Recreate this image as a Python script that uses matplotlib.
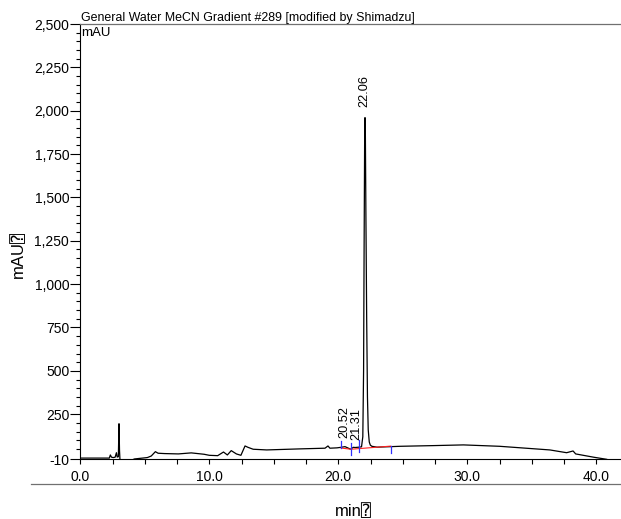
import matplotlib
matplotlib.use("Agg")
import matplotlib.pyplot as plt
from matplotlib.lines import Line2D
from matplotlib.ticker import FixedLocator, MultipleLocator, FuncFormatter

# ---- data ----
time_min = [0.0, 1.0, 2.0, 2.25, 2.33, 2.42, 2.55, 2.70, 2.80, 2.86, 2.95, 3.00, 3.04, 3.08,
            3.4, 3.8, 4.2, 4.7, 5.2, 5.5, 5.82, 6.03, 6.54, 7.6, 8.6, 9.6, 10.0, 10.65,
            11.1, 11.4, 11.7, 12.1, 12.45, 12.77, 13.0, 13.4, 14.45, 17.0, 18.97, 19.2,
            19.35, 19.9, 20.2, 20.52, 20.96, 21.16, 21.31, 21.6, 21.80, 21.90, 21.96,
            22.00, 22.04, 22.07, 22.10, 22.14, 22.20, 22.26, 22.32, 22.40, 22.48, 22.6,
            23.0, 24.8, 27.4, 29.7, 32.5, 33.8, 36.4, 37.7, 38.2, 38.4, 39.8, 40.8]
signal_mau = [-3, -3, -3, -3, 15, 2, 0, 2, 28, 3, 5, 195, 40, -20,
              -25, -20, -8, -4, 0, 9, 34, 25, 23, 21, 27, 19, 13, 11,
              32, 15, 40, 21, 13, 67, 59, 48, 44, 50, 54, 67,
              54, 56, 59, 63, 48, 59, 58, 60, 62, 120, 500,
              1200, 1800, 1960, 1850, 1400, 800, 350, 160, 90, 72, 65,
              60, 65, 69, 73, 65, 58, 44, 28, 38, 21, 2, -10]

peak_labels = ["20.52", "21.31", "22.06"]
peak_label_x = [20.44, 21.37, 22.0]
peak_label_y = [115, 100, 2020]

# integration baseline (red) and delimiters (blue)
base_t = [20.21, 20.98, 24.06]
base_v = [55, 48, 66]
delim_t = [20.21, 20.98, 21.63, 24.06]
delim_lo = [54, 15, 34, 25]
delim_hi = [98, 86, 102, 67]

y_major = [-10, 250, 500, 750, 1000, 1250, 1500, 1750, 2000, 2250, 2500]

title = "General Water MeCN Gradient #289 [modified by Shimadzu]"

# ---- figure ----
W, H = 621, 519
fig = plt.figure(figsize=(W / 100, H / 100), dpi=100)
fam = ["Liberation Sans", "DejaVu Sans", "DejaVu Sans Mono"]
plt.rcParams["font.family"] = fam

left, right, top, bottom = 80.3, 620, 24, 459.3
ax = fig.add_axes([left / W, 1 - bottom / H, (right - left) / W, (bottom - top) / H])

ax.plot(time_min, signal_mau, color="black", lw=0.9, zorder=3)
ax.plot(base_t, base_v, color="#ff2020", lw=0.8, zorder=4)
for t, lo, hi in zip(delim_t, delim_lo, delim_hi):
    ax.plot([t, t], [lo, hi], color="#3030ff", lw=0.9, zorder=5)

for lab, x, y in zip(peak_labels, peak_label_x, peak_label_y):
    ax.text(x, y, lab, rotation=90, ha="center", va="bottom", fontsize=9.2,
            family=fam, zorder=6)

ax.set_xlim(0, (right - left) / 12.9)
ax.set_ylim(-10, 2500)

ax.xaxis.set_major_locator(MultipleLocator(10))
ax.xaxis.set_minor_locator(MultipleLocator(2.5))
ax.xaxis.set_major_formatter(FuncFormatter(lambda v, p: f"{v:.1f}"))
ax.yaxis.set_major_locator(FixedLocator(y_major))
ax.yaxis.set_minor_locator(FixedLocator([v for v in range(50, 2500, 50) if v % 250 != 0]))
ax.yaxis.set_major_formatter(FuncFormatter(lambda v, p: f"{int(v):,}"))

ax.tick_params(axis="x", which="both", direction="out", length=3.5, width=0.8,
               pad=4, labelsize=10)
ax.tick_params(axis="y", which="major", direction="out", length=7, width=0.8,
               pad=1, labelsize=10)
ax.tick_params(axis="y", which="minor", direction="out", length=3, width=0.8)

ax.spines["right"].set_visible(False)
ax.spines["top"].set_color("#707070")
ax.spines["top"].set_linewidth(0.9)
ax.spines["left"].set_linewidth(0.8)
ax.spines["bottom"].set_linewidth(0.8)

# header texts
fig.text(81 / W, 1 - 20.7 / H, title, ha="left", va="baseline", fontsize=8.9, family=fam)
fig.text(81 / W, 1 - 36 / H, "mAU", ha="left", va="baseline", fontsize=9.5, family=fam)

# axis labels
fig.text(18 / W, 1 - 255 / H, "mAU\u2370", rotation=90, ha="center", va="center",
         fontsize=12, family=fam)
fig.text(353.5 / W, 1 - 516.5 / H, "min\u2370", ha="center", va="baseline",
         fontsize=12, family=fam)

# separator line below tick labels
fig.add_artist(Line2D([31 / W, 1.0], [1 - 484 / H, 1 - 484 / H], color="#707070", lw=0.9))

fig.savefig("out.png", dpi=100)
